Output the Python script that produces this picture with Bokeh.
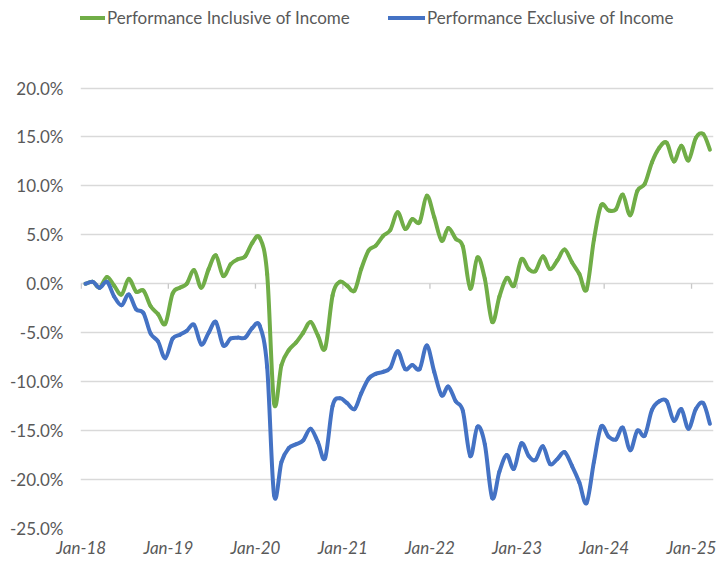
import datetime as dt
import numpy as np
import pandas as pd
from bokeh.plotting import figure
from bokeh.models import (Range1d, FixedTicker, DatetimeTickFormatter, PrintfTickFormatter,
                          Legend, LegendItem, ColumnDataSource)
from bokeh.embed import file_html
from bokeh.resources import INLINE

# ---- data (monthly, % performance) ----
start_month = "2018-01-01"
n_months = 87
inclusive = [0.0, 0.2, -0.4, 0.7, -0.2, -1.1, 0.5, -0.8, -0.7, -2.3,
             -3.1, -4.1, -1.0, -0.4, 0.0, 1.4, -0.4, 1.5, 2.9, 0.8,
             2.0, 2.5, 2.8, 4.2, 4.7, 1.0, -12.2, -8.3, -6.8, -6.0,
             -5.0, -3.9, -5.3, -6.6, -1.2, 0.2, -0.2, -0.7, 1.5, 3.4,
             3.9, 4.9, 5.5, 7.3, 5.6, 6.6, 6.3, 9.0, 6.8, 4.4,
             5.7, 4.6, 3.8, -0.5, 2.7, 0.5, -3.9, -1.3, 0.6, -0.2,
             2.5, 1.5, 1.3, 2.8, 1.5, 2.4, 3.5, 2.2, 1.0, -0.6,
             4.5, 8.0, 7.5, 7.6, 9.1, 7.0, 9.5, 10.2, 12.4, 13.9,
             14.4, 12.5, 14.1, 12.6, 14.9, 15.3, 13.7]
exclusive = [0.0, 0.2, -0.4, 0.2, -1.3, -2.2, -1.1, -2.6, -3.0, -5.1,
             -5.9, -7.6, -5.6, -5.2, -4.8, -4.2, -6.2, -5.0, -3.9, -6.3,
             -5.6, -5.5, -5.5, -4.5, -4.3, -8.5, -21.6, -18.2, -16.8, -16.4,
             -16.0, -14.8, -16.2, -17.8, -12.5, -11.7, -12.2, -12.8, -11.2, -9.7,
             -9.2, -9.0, -8.6, -6.9, -8.7, -8.3, -8.7, -6.3, -9.0, -11.4,
             -10.5, -12.0, -13.0, -17.6, -14.6, -16.4, -21.9, -19.2, -17.5, -18.9,
             -16.3, -17.6, -18.0, -16.6, -18.4, -17.9, -17.2, -18.6, -20.3, -22.4,
             -18.2, -14.6, -15.6, -15.9, -14.7, -17.0, -15.0, -15.5, -12.9, -12.0,
             -12.0, -14.0, -12.8, -14.8, -12.8, -12.2, -14.3]
series_names = ["Performance Inclusive of Income", "Performance Exclusive of Income"]
x_tick_dates = ["2018-01-01", "2019-01-01", "2020-01-01", "2021-01-01",
                "2022-01-01", "2023-01-01", "2024-01-01", "2025-01-01"]
y_ticks = [-25, -20, -15, -10, -5, 0, 5, 10, 15, 20]

GREEN = "#70AD47"
BLUE = "#4472C4"
TXT = "#595959"
GRID = "#D9D9D9"
FONT = "Lato"

dates = pd.date_range(start_month, periods=n_months, freq="MS") + pd.Timedelta(days=18)
x_ms = (dates.asi8 // 10**6).astype(float)
tick_ms = [int(pd.Timestamp(d).value // 10**6) for d in x_tick_dates]


def smoothed(xs, ys):
    """Bezier pieces through every data point (Excel-style smoothed line)."""
    xs = np.asarray(xs, float)
    ys = np.asarray(ys, float)
    xp = np.concatenate([[xs[0]], xs, [xs[-1]]])
    yp = np.concatenate([[ys[0]], ys, [ys[-1]]])
    i = np.arange(len(xs) - 1)
    return ColumnDataSource(dict(
        x0=xs[:-1], y0=ys[:-1], x1=xs[1:], y1=ys[1:],
        cx0=xs[:-1] + (xp[i + 2] - xp[i]) / 6.0, cy0=ys[:-1] + (yp[i + 2] - yp[i]) / 6.0,
        cx1=xs[1:] - (xp[i + 3] - xp[i + 1]) / 6.0, cy1=ys[1:] - (yp[i + 3] - yp[i + 1]) / 6.0,
    ))


# the frame reaches the top of the page so the legend can sit above the gridded area
p = figure(width=723, height=560, output_backend="svg", toolbar_location=None,
           x_axis_type="datetime",
           x_range=Range1d(dt.datetime(2017, 12, 29), dt.datetime(2025, 4, 3)),
           y_range=Range1d(-25, 28.94),
           min_border_left=80, min_border_right=10, min_border_top=0, min_border_bottom=29)
p.outline_line_color = None
p.background_fill_color = "white"
p.border_fill_color = "white"

p.xgrid.visible = False
p.ygrid.ticker = FixedTicker(ticks=y_ticks)
p.ygrid.grid_line_color = GRID
p.ygrid.grid_line_width = 1.3

# tick marks hanging from the zero line
p.segment(x0=tick_ms, x1=tick_ms,
          y0=[0] * len(x_tick_dates), y1=[-0.5] * len(x_tick_dates),
          line_color="#C8C8C8", line_width=1.3)

g = p.bezier(x0="x0", y0="y0", x1="x1", y1="y1", cx0="cx0", cy0="cy0", cx1="cx1", cy1="cy1",
             source=smoothed(x_ms, inclusive), line_color=GREEN, line_width=4, line_cap="round")
b = p.bezier(x0="x0", y0="y0", x1="x1", y1="y1", cx0="cx0", cy0="cy0", cx1="cx1", cy1="cy1",
             source=smoothed(x_ms, exclusive), line_color=BLUE, line_width=4, line_cap="round")

# axes
p.yaxis.ticker = FixedTicker(ticks=y_ticks)
p.yaxis.formatter = PrintfTickFormatter(format="%.1f%%")
p.yaxis.axis_line_color = None
p.yaxis.major_tick_line_color = None
p.yaxis.minor_tick_line_color = None
p.yaxis.major_tick_out = 0
p.yaxis.major_tick_in = 0
p.yaxis.minor_tick_out = 0
p.yaxis.major_label_standoff = 17
p.yaxis.major_label_text_font = FONT
p.yaxis.major_label_text_font_size = "17px"
p.yaxis.major_label_text_color = TXT

p.xaxis.ticker = FixedTicker(ticks=tick_ms)
p.xaxis.formatter = DatetimeTickFormatter(years="%b-%y", months="%b-%y", days="%b-%y",
                                          hours="%b-%y", minutes="%b-%y", seconds="%b-%y",
                                          milliseconds="%b-%y", microseconds="%b-%y",
                                          hourmin="%b-%y", minsec="%b-%y")
p.xaxis.axis_line_color = None
p.xaxis.major_tick_line_color = None
p.xaxis.minor_tick_line_color = None
p.xaxis.major_tick_out = 0
p.xaxis.major_tick_in = 0
p.xaxis.minor_tick_out = 0
p.xaxis.major_label_standoff = 8
p.xaxis.major_label_text_font = FONT
p.xaxis.major_label_text_font_size = "17px"
p.xaxis.major_label_text_font_style = "italic"
p.xaxis.major_label_text_color = TXT

for rend, name, loc, gw in [(g, series_names[0], (0, 500), 25), (b, series_names[1], (308, 500), 37)]:
    leg = Legend(items=[LegendItem(label=name, renderers=[rend])], location=loc,
                 orientation="horizontal", glyph_width=gw, glyph_height=19,
                 label_standoff=2, padding=0, margin=0, spacing=0,
                 border_line_color=None, background_fill_alpha=0,
                 label_text_font=FONT, label_text_font_size="17px",
                 label_text_color=TXT, label_height=19)
    p.add_layout(leg, "center")

open("out.html", "w").write(file_html(p, INLINE))
